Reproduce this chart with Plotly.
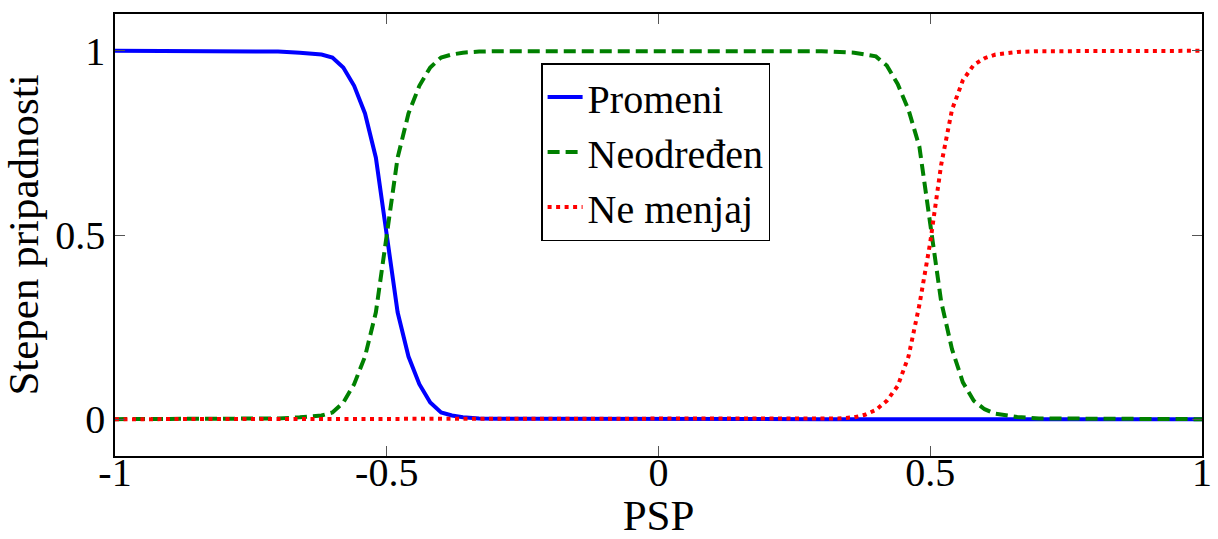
import plotly.graph_objects as go

# PSP grid shared by the three membership functions
psp = [-1.0, -0.70, -0.66, -0.62, -0.60, -0.58, -0.56, -0.54, -0.52, -0.50,
       -0.48, -0.46, -0.44, -0.42, -0.40, -0.38, -0.36, -0.33, -0.30,
       0.30, 0.33, 0.36, 0.38, 0.40, 0.42, 0.44, 0.46, 0.48, 0.50,
       0.52, 0.54, 0.56, 0.58, 0.60, 0.62, 0.66, 0.70, 1.0]

promeni = [1.0, 0.998, 0.995, 0.99, 0.982, 0.955, 0.905, 0.83, 0.71, 0.50,
           0.29, 0.17, 0.095, 0.045, 0.018, 0.01, 0.005, 0.002, 0.001,
           0.0, 0.0, 0.0, 0.0, 0.0, 0.0, 0.0, 0.0, 0.0, 0.0,
           0.0, 0.0, 0.0, 0.0, 0.0, 0.0, 0.0, 0.0, 0.0]

neodredjen = [0.0, 0.002, 0.005, 0.01, 0.018, 0.045, 0.095, 0.17, 0.29, 0.50,
              0.71, 0.83, 0.905, 0.955, 0.982, 0.99, 0.995, 0.998, 0.999,
              0.999, 0.998, 0.995, 0.99, 0.985, 0.96, 0.91, 0.84, 0.74, 0.53,
              0.32, 0.19, 0.10, 0.05, 0.027, 0.015, 0.006, 0.002, 0.0]

ne_menjaj = [0.0, 0.0, 0.0, 0.0, 0.0, 0.0, 0.0, 0.0, 0.0, 0.0,
             0.0, 0.0, 0.0, 0.0, 0.0, 0.0, 0.0, 0.0, 0.0,
             0.001, 0.002, 0.005, 0.012, 0.025, 0.05, 0.09, 0.17, 0.31, 0.48,
             0.69, 0.84, 0.92, 0.962, 0.98, 0.99, 0.997, 0.999, 1.0]

x_ticks = [-1, -0.5, 0, 0.5, 1]
x_tick_text = ["-1", "-0.5", "0", "0.5", "1"]
y_ticks = [0, 0.5, 1]
y_tick_text = ["0", "0.5", "1"]

FONT = "Liberation Serif, Times New Roman, serif"

fig = go.Figure()
fig.add_trace(go.Scatter(x=psp, y=promeni, mode="lines", name="Promeni",
                         line=dict(color="#0000ff", width=4, dash="solid")))
fig.add_trace(go.Scatter(x=psp, y=neodredjen, mode="lines", name="Neodređen",
                         line=dict(color="#008000", width=4, dash="12px,6px")))
fig.add_trace(go.Scatter(x=psp, y=ne_menjaj, mode="lines", name="Ne menjaj",
                         line=dict(color="#ff0000", width=4, dash="4px,4.5px")))

axis_common = dict(
    showline=True, linecolor="black", linewidth=1.5, mirror="allticks",
    ticks="inside", ticklen=10, tickcolor="#555", tickwidth=1,
    showgrid=False, zeroline=False, automargin=False,
    tickfont=dict(family=FONT, size=40, color="black"),
)

fig.update_xaxes(range=[-1, 1], tickvals=x_ticks, ticktext=x_tick_text,
                 ticklabelstandoff=-20,
                 title=dict(text="PSP", font=dict(family=FONT, size=43, color="black"),
                            standoff=4),
                 **axis_common)
fig.update_yaxes(range=[-0.1, 1.1], tickvals=y_ticks, ticktext=y_tick_text,
                 title=dict(text="Stepen pripadnosti",
                            font=dict(family=FONT, size=43, color="black"),
                            standoff=11),
                 **axis_common)

fig.update_layout(
    template="none",
    width=1218, height=539,
    margin=dict(l=115, r=16, t=14, b=83),
    paper_bgcolor="white", plot_bgcolor="white",
    font=dict(family=FONT, size=40, color="black"),
    showlegend=True,
    legend=dict(x=0.392, y=0.889, xanchor="left", yanchor="top",
                bgcolor="white", bordercolor="black", borderwidth=1.5,
                font=dict(family=FONT, size=40, color="black"),
                tracegroupgap=0, itemwidth=35),
)

fig.write_html("out.html")
